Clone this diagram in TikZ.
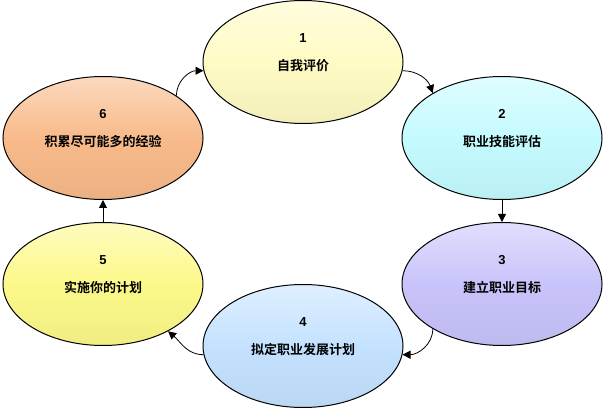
\documentclass[tikz,border=0pt]{standalone}
\usepackage{fontspec}
\setmainfont{Liberation Sans}
\newfontfamily\cjk{Noto Sans CJK SC}[BoldFont={Noto Sans CJK SC Bold}]
\usetikzlibrary{shapes.geometric,arrows.meta}
\definecolor{cA}{HTML}{FFFBC4}
\definecolor{cB}{HTML}{C4FBFF}
\definecolor{cC}{HTML}{C8C4FB}
\definecolor{cD}{HTML}{C4E2FF}
\definecolor{cE}{HTML}{FCF98A}
\definecolor{cF}{HTML}{F8BA8A}
\tikzset{
  bub/.style={ellipse, draw=black, line width=1pt, minimum width=200pt, minimum height=123pt,
    align=center, text depth=20pt, font=\bfseries\fontsize{13pt}{28pt}\selectfont},
  conn/.style={-{Triangle[length=8pt,width=8pt]}, line width=0.8pt}
}
\begin{document}
\begin{tikzpicture}[x=1pt,y=-1pt]
\useasboundingbox (0,0) rectangle (604,411);
\node[bub, bottom color=cA!95!black, top color=cA!55!white, middle color=cA] (n1) at (303,62) {1\\{\cjk 自我评价}};
\node[bub, bottom color=cB!95!black, top color=cB!55!white, middle color=cB] (n2) at (502,138) {2\\{\cjk 职业技能评估}};
\node[bub, bottom color=cC!95!black, top color=cC!55!white, middle color=cC] (n3) at (502,284) {3\\{\cjk 建立职业目标}};
\node[bub, bottom color=cD!95!black, top color=cD!55!white, middle color=cD] (n4) at (303,346) {4\\{\cjk 拟定职业发展计划}};
\node[bub, bottom color=cE!95!black, top color=cE!55!white, middle color=cE] (n5) at (103,284) {5\\{\cjk 实施你的计划}};
\node[bub, bottom color=cF!95!black, top color=cF!55!white, middle color=cF] (n6) at (103,138) {6\\{\cjk 积累尽可能多的经验}};
\draw[conn] (n1.-5) to[out=0,in=110] (n2.147);
\draw[conn] (n2.south) -- (n3.north);
\draw[conn] (n3.-147) to[out=-90,in=0] (n4.-5);
\draw[conn] (n4.185) to[out=180,in=-40] (n5.-36);
\draw[conn] (n5.north) -- (n6.north |- n6.south);
\draw[conn] (n6.30) to[out=90,in=180] (n1.185);
\end{tikzpicture}
\end{document}
